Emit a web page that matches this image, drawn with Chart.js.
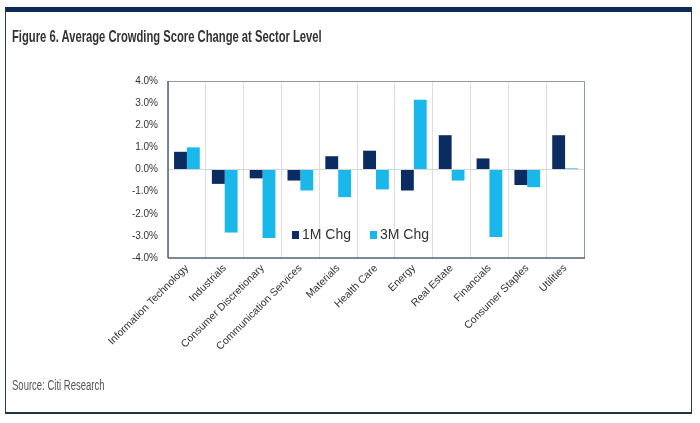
<!DOCTYPE html>
<html lang="en">
<head>
    <meta charset="UTF-8">
    <title>Figure 6. Average Crowding Score Change at Sector Level</title>
    <script src="https://cdn.jsdelivr.net/npm/chart.js"></script>
    <style>
        body {
            margin: 0;
            padding: 0;
            background: #fff;
            font-family: 'Liberation Sans', Arial, sans-serif;
        }
        .page {
            position: relative;
            width: 700px;
            height: 423px;
            overflow: hidden;
        }
        .frame {
            position: absolute;
            left: 5px;
            top: 7px;
            width: 685px;
            height: 400px;
            border-left: 1px solid #2b3b4b;
            border-right: 1px solid #2b3b4b;
            border-bottom: 2px solid #1f3444;
            border-top: 5px solid #0c2b57;
        }
        .title {
            position: absolute;
            left: 12px;
            top: 27px;
            font-size: 17px;
            font-weight: bold;
            color: #333;
            white-space: nowrap;
            transform: scaleX(0.66);
            transform-origin: left top;
        }
        .source {
            position: absolute;
            left: 12px;
            top: 377px;
            font-size: 14px;
            color: #555;
            white-space: nowrap;
            transform: scaleX(0.68);
            transform-origin: left top;
        }
        .chart-box {
            position: absolute;
            left: 0;
            top: 0;
            width: 700px;
            height: 423px;
        }
    </style>
</head>
<body>
<div class="page">
    <div class="frame"></div>
    <div class="chart-box"><canvas id="barChart" width="700" height="423"></canvas></div>
    <div class="title">Figure 6. Average Crowding Score Change at Sector Level</div>
    <div class="source">Source: Citi Research</div>
</div>

<script>
    const sectors = ['Information Technology', 'Industrials', 'Consumer Discretionary', 'Communication Services',
        'Materials', 'Health Care', 'Energy', 'Real Estate', 'Financials', 'Consumer Staples', 'Utilities'];
    const chg1M = [0.8, -0.65, -0.4, -0.5, 0.6, 0.85, -0.95, 1.55, 0.5, -0.7, 1.55];
    const chg3M = [1.0, -2.85, -3.1, -0.95, -1.25, -0.9, 3.15, -0.5, -3.05, -0.8, 0.05];

    const navy = '#0b2b63';
    const cyan = '#19b7ea';
    const fontFamily = '"Liberation Sans", Arial, sans-serif';

    // border of plot area + legend inside the plot
    const plotExtras = {
        id: 'plotExtras',
        afterDraw(chart) {
            const { ctx, chartArea: a } = chart;
            ctx.save();
            ctx.strokeStyle = '#8c99a6';
            ctx.lineWidth = 1;
            ctx.beginPath();
            ctx.moveTo(a.left, a.top + 0.5);
            ctx.lineTo(a.right + 0.5, a.top + 0.5);
            ctx.lineTo(a.right + 0.5, a.bottom);
            ctx.stroke();
            ctx.strokeStyle = '#4f6172';
            ctx.lineWidth = 1.5;
            ctx.beginPath();
            ctx.moveTo(a.left, a.bottom);
            ctx.lineTo(a.right + 1, a.bottom);
            ctx.stroke();
            ctx.beginPath();
            ctx.moveTo(a.left, a.top);
            ctx.lineTo(a.left, a.bottom);
            ctx.stroke();

            // legend
            ctx.font = '14px ' + fontFamily;
            ctx.textBaseline = 'middle';
            let x = 292;
            const y = 235;
            chart.data.datasets.forEach(ds => {
                ctx.fillStyle = ds.backgroundColor;
                ctx.fillRect(x, y - 4, 7, 8);
                ctx.fillStyle = '#333';
                ctx.fillText(ds.label, x + 10, y);
                x += 78;
            });
            ctx.restore();
        }
    };

    const ctx = document.getElementById('barChart').getContext('2d');
    new Chart(ctx, {
        type: 'bar',
        data: {
            labels: sectors,
            datasets: [
                { label: '1M Chg', data: chg1M, backgroundColor: navy },
                { label: '3M Chg', data: chg3M, backgroundColor: cyan }
            ]
        },
        options: {
            responsive: false,
            animation: false,
            devicePixelRatio: 1,
            datasets: {
                bar: { categoryPercentage: 0.68, barPercentage: 1.0 }
            },
            layout: { padding: { left: 0, top: 81, right: 116, bottom: 0 } },
            plugins: {
                legend: { display: false },
                tooltip: { enabled: false }
            },
            scales: {
                x: {
                    grid: { color: '#dedede', drawTicks: false, offset: true },
                    border: { display: false },
                    ticks: {
                        minRotation: 45,
                        maxRotation: 45,
                        color: '#333',
                        padding: 4,
                        font: { family: fontFamily, size: 10.5 }
                    },
                    afterFit(scale) { scale.height = 165; }
                },
                y: {
                    min: -4,
                    max: 4,
                    grid: {
                        drawTicks: false,
                        color: c => (c.tick && c.tick.value === 0 ? '#d6d6d6' : 'rgba(0,0,0,0)')
                    },
                    border: { display: false },
                    ticks: {
                        stepSize: 1,
                        color: '#333',
                        padding: 10,
                        font: { family: fontFamily, size: 10 },
                        callback: v => v.toFixed(1) + '%'
                    },
                    afterFit(scale) { scale.width = 168; }
                }
            }
        },
        plugins: [plotExtras]
    });
</script>
</body>
</html>
